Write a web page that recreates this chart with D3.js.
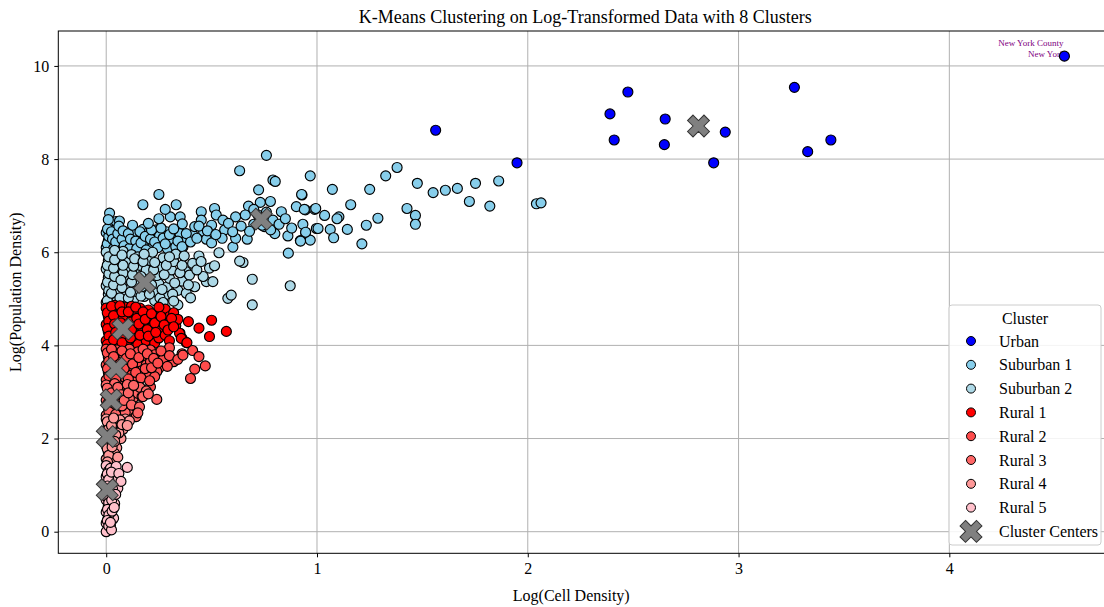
<!DOCTYPE html>
<html><head><meta charset="utf-8">
<script src="https://cdn.jsdelivr.net/npm/d3@7"></script>
<style>body{margin:0;background:#fff;} text{font-family:"Liberation Serif","Times New Roman",serif;}</style>
</head><body><svg id="c" width="1104" height="607"></svg>
<script>
const clusterNames = ["Urban","Suburban 1","Suburban 2","Rural 1","Rural 2","Rural 3","Rural 4","Rural 5"];
const clusterColors = ["#0000ff","#87ceeb","#add8e6","#ff0000","#ff4c4c","#ff6666","#ff9999","#ffc0cb"];
const xTicks = [0,1,2,3,4];
const yTicks = [0,2,4,6,8,10];

const urban = [[1.563,8.62],[1.949,7.92],[2.39,8.97],[2.475,9.44],[2.41,8.41],[2.652,8.86],[2.648,8.31],[2.937,8.58],[2.882,7.92],[3.265,9.54],[3.328,8.16],[3.438,8.41],[4.546,10.21]];
const suburban1 = [[0.00,6.10],[0.01,6.25],[0.00,6.42],[0.02,6.58],[0.016,6.84],[0.03,6.18],[0.04,6.36],[0.05,6.52],[0.047,6.66],[0.063,6.67],[0.09,6.35],[0.07,6.12],[0.10,6.22],[0.12,6.45],[0.13,6.15],[0.15,6.30],[0.17,6.10],[0.174,6.49],[0.18,6.22],[0.20,6.38],[0.197,6.41],[0.139,6.41],[0.095,6.33],[0.22,6.12],[0.237,6.48],[0.253,6.35],[0.26,6.20],[0.285,6.44],[0.29,6.08],[0.31,6.28],[0.33,6.12],[0.35,6.40],[0.364,6.11],[0.376,6.23],[0.411,6.37],[0.462,6.44],[0.475,6.28],[0.304,6.76],[0.351,6.76],[0.361,6.61],[0.332,7.02],[0.25,7.24],[0.174,7.02],[0.451,6.87],[0.451,6.69],[0.514,6.94],[0.522,6.80],[0.554,6.69],[0.562,6.48],[0.614,6.76],[0.675,6.99],[0.723,7.34],[0.731,7.07],[0.779,7.09],[0.831,6.87],[0.791,6.69],[0.902,6.98],[0.945,6.91],[0.929,7.23],[0.989,6.92],[0.997,6.51],[0.946,6.42],[0.968,6.26],[0.921,6.25],[0.862,6.35],[0.864,5.98],[0.601,6.11],[0.669,6.28],[0.614,6.30],[0.76,8.08],[0.633,7.75],[0.791,7.55],[0.802,7.52],[0.968,7.64],[1.073,7.35],[1.16,7.02],[1.25,7.35],[1.326,7.64],[1.38,7.82],[1.476,7.48],[1.551,7.28],[1.609,7.33],[1.666,7.37],[1.752,7.48],[1.862,7.53],[1.723,7.09],[1.82,6.99],[2.041,7.04],[2.063,7.06],[1.427,6.94],[1.467,6.79],[1.467,6.60],[1.289,6.73],[1.234,6.58],[1.213,6.18],[1.144,6.49],[1.104,6.76],[1.095,6.72],[1.063,6.49],[1.079,6.31],[1.005,6.51],[1.036,6.79],[0.994,6.94],[0.94,6.92],[0.927,7.24],[0.933,6.60],[0.946,6.43],[0.922,6.24],[0.70,6.60],[0.75,6.55],[0.68,6.45],[0.72,6.80],[0.80,6.40],[0.42,6.55],[0.55,6.30],[0.50,6.58],
[0.005,6.18],[0.012,6.34],[0.006,6.50],[0.01,6.70],[0.025,6.44],[0.03,6.28],[0.035,6.08],[0.045,6.22],[0.055,6.40],[0.06,6.56],[0.075,6.28],[0.08,6.46],[0.085,6.14],[0.105,6.40],[0.11,6.08],[0.115,6.28],[0.125,6.58],[0.14,6.24],[0.145,6.08],[0.16,6.44],[0.165,6.20],[0.185,6.34],[0.19,6.05],[0.21,6.28],[0.215,6.48],[0.23,6.22],[0.245,6.10],[0.26,6.52],[0.27,6.30],[0.28,6.18],[0.30,6.38],[0.32,6.50],[0.34,6.24],[0.36,6.12],[0.38,6.40],[0.40,6.22],[0.43,6.30],[0.44,6.56],[0.48,6.46],[0.50,6.20],[0.52,6.38],[0.58,6.62],[0.60,6.44],[0.64,6.56],[0.66,6.80],[0.70,6.92],[0.74,6.58],[0.76,6.86],[0.78,6.48],[0.82,6.60],[0.85,6.72],[0.88,6.52],[0.25,6.72],[0.20,6.62],[0.28,6.92]];
const suburban2 = [[0.00,4.92],[0.01,5.10],[0.00,5.28],[0.01,5.46],[0.00,5.64],[0.01,5.82],[0.00,6.00],[0.02,5.02],[0.03,5.20],[0.02,5.38],[0.03,5.56],[0.02,5.74],[0.03,5.92],[0.05,4.95],[0.06,5.14],[0.05,5.32],[0.07,5.50],[0.06,5.68],[0.05,5.86],[0.08,6.02],[0.09,5.06],[0.10,5.24],[0.09,5.42],[0.11,5.60],[0.10,5.78],[0.12,5.95],[0.13,4.98],[0.14,5.16],[0.15,5.36],[0.14,5.54],[0.16,5.72],[0.15,5.90],[0.18,5.05],[0.19,5.22],[0.20,5.45],[0.19,5.62],[0.21,5.82],[0.22,6.00],[0.23,4.96],[0.24,5.14],[0.25,5.32],[0.24,5.50],[0.26,5.68],[0.27,5.88],[0.28,5.08],[0.29,5.26],[0.30,5.44],[0.31,5.62],[0.32,5.80],[0.33,5.96],[0.34,5.18],[0.36,5.38],[0.38,5.58],[0.42,5.26],[0.44,5.92],[0.34,4.87],[0.38,5.12],[0.395,5.51],[0.41,5.76],[0.475,5.37],[0.506,5.37],[0.49,5.66],[0.514,5.71],[0.577,5.01],[0.593,5.08],[0.693,4.87],[0.693,5.42],[0.649,5.78],[0.633,5.81],[0.873,5.28],[0.535,5.99],[0.46,5.48],[0.08,5.55],
[0.005,4.96],[0.012,5.18],[0.006,5.36],[0.013,5.54],[0.005,5.72],[0.012,5.90],[0.025,5.12],[0.035,5.30],[0.04,5.48],[0.035,5.66],[0.04,5.84],[0.04,6.04],[0.065,5.02],[0.075,5.24],[0.07,5.40],[0.08,5.72],[0.075,5.94],[0.105,5.02],[0.115,5.14],[0.12,5.36],[0.125,5.52],[0.13,5.70],[0.135,5.86],[0.165,5.06],[0.17,5.26],[0.165,5.48],[0.175,5.80],[0.18,5.96],[0.205,5.10],[0.215,5.30],[0.225,5.62],[0.23,5.78],[0.255,5.02],[0.265,5.20],[0.275,5.52],[0.285,5.72],[0.30,5.90],[0.315,5.10],[0.325,5.34],[0.35,5.56],[0.36,5.72],[0.37,5.92],[0.39,5.30],[0.40,5.02],[0.43,5.62],[0.45,5.80],[0.32,4.95],[0.27,4.92]];
const rural1 = [[0.00,4.80],[0.01,4.62],[0.00,4.45],[0.01,4.28],[0.00,4.10],[0.02,3.98],[0.02,4.72],[0.03,4.55],[0.03,4.38],[0.02,4.20],[0.04,4.05],[0.05,4.78],[0.06,4.66],[0.05,4.50],[0.07,4.30],[0.06,4.15],[0.08,4.00],[0.09,4.82],[0.10,4.60],[0.09,4.44],[0.11,4.25],[0.10,4.08],[0.12,4.74],[0.13,4.52],[0.14,4.36],[0.13,4.14],[0.15,4.02],[0.16,4.80],[0.17,4.64],[0.18,4.46],[0.17,4.28],[0.19,4.10],[0.20,4.76],[0.21,4.58],[0.22,4.40],[0.21,4.20],[0.23,4.05],[0.24,4.70],[0.25,4.52],[0.26,4.34],[0.25,4.16],[0.27,4.66],[0.28,4.78],[0.30,4.49],[0.29,4.33],[0.30,4.62],[0.32,4.70],[0.33,4.42],[0.35,4.26],[0.36,4.15],[0.38,4.06],[0.39,4.51],[0.44,4.37],[0.49,4.19],[0.50,4.54],[0.57,4.30],[0.34,4.56],[0.15,4.68],[0.08,4.56],[0.04,4.86],[0.12,4.84],
[0.005,4.70],[0.012,4.52],[0.006,4.36],[0.013,4.20],[0.005,4.02],[0.025,4.84],[0.035,4.64],[0.04,4.46],[0.045,4.28],[0.035,4.12],[0.065,4.85],[0.075,4.72],[0.07,4.48],[0.085,4.22],[0.075,4.06],[0.105,4.72],[0.115,4.50],[0.12,4.34],[0.115,4.16],[0.14,4.82],[0.145,4.58],[0.155,4.46],[0.16,4.22],[0.175,4.72],[0.185,4.56],[0.195,4.34],[0.2,4.20],[0.215,4.68],[0.23,4.48],[0.235,4.28],[0.25,4.82],[0.26,4.62],[0.275,4.44],[0.28,4.22],[0.293,4.33],[0.31,4.58],[0.348,4.26],[0.356,4.15],[0.383,4.06],[0.300,4.10],[0.32,4.40]];
const rural2 = [[0.00,3.92],[0.01,3.75],[0.00,3.58],[0.01,3.42],[0.00,3.26],[0.02,3.85],[0.03,3.66],[0.02,3.50],[0.03,3.33],[0.04,3.20],[0.05,3.90],[0.06,3.72],[0.05,3.55],[0.07,3.38],[0.06,3.24],[0.08,3.82],[0.09,3.62],[0.10,3.45],[0.09,3.30],[0.11,3.92],[0.12,3.70],[0.13,3.52],[0.12,3.36],[0.14,3.22],[0.15,3.86],[0.16,3.64],[0.17,3.46],[0.18,3.78],[0.19,3.58],[0.21,3.90],[0.20,3.40],[0.21,3.65],[0.23,3.80],[0.25,3.51],[0.24,3.44],[0.21,3.11],[0.23,3.33],[0.28,3.83],[0.32,3.65],[0.36,3.82],[0.41,3.89],[0.44,3.76],[0.47,3.56],[0.42,3.49],[0.40,3.29],[0.27,3.70],[0.30,3.95],
[0.005,3.84],[0.012,3.66],[0.006,3.50],[0.013,3.34],[0.025,3.92],[0.035,3.76],[0.04,3.44],[0.045,3.28],[0.065,3.60],[0.075,3.88],[0.085,3.50],[0.095,3.72],[0.105,3.28],[0.115,3.82],[0.125,3.60],[0.14,3.42],[0.155,3.74],[0.165,3.30],[0.175,3.92],[0.185,3.50],[0.195,3.82],[0.215,3.52],[0.225,3.72],[0.245,3.62],[0.26,3.88],[0.206,3.24],[0.30,3.78],[0.34,3.70],[0.29,3.55],[0.364,3.79]];
const rural3 = [[0.00,3.15],[0.01,2.98],[0.00,2.82],[0.01,2.66],[0.00,2.50],[0.02,3.08],[0.03,2.90],[0.02,2.74],[0.03,2.58],[0.04,3.18],[0.05,3.00],[0.06,2.84],[0.05,2.68],[0.07,2.52],[0.08,3.12],[0.09,2.95],[0.10,2.78],[0.11,2.61],[0.12,3.05],[0.13,2.88],[0.15,2.97],[0.14,2.68],[0.16,3.10],[0.17,2.90],[0.14,2.47],[0.11,2.86],[0.24,2.84],[0.19,3.02],[0.06,2.45],[0.09,2.56],
[0.005,3.08],[0.012,2.90],[0.006,2.74],[0.013,2.58],[0.025,2.98],[0.035,2.76],[0.045,2.52],[0.055,3.10],[0.07,2.94],[0.075,2.70],[0.085,2.82],[0.10,3.16],[0.105,2.98],[0.12,2.72],[0.13,3.14],[0.142,2.47],[0.158,2.68],[0.174,2.90],[0.15,2.55],[0.20,2.96]];
const rural4 = [[0.00,2.42],[0.01,2.28],[0.00,2.12],[0.01,1.98],[0.00,1.84],[0.01,1.70],[0.00,1.56],[0.02,2.35],[0.03,2.18],[0.02,2.04],[0.03,1.90],[0.02,1.76],[0.03,1.62],[0.02,1.48],[0.04,2.40],[0.05,2.26],[0.06,2.33],[0.07,2.00],[0.05,1.80],[0.04,1.68],[0.08,2.20],[0.09,2.42],[0.06,2.12],[0.03,1.53],[0.11,2.38],
[0.005,2.36],[0.012,2.20],[0.006,2.06],[0.013,1.92],[0.005,1.78],[0.012,1.64],[0.006,1.50],[0.025,2.28],[0.022,1.98],[0.028,1.82],[0.045,2.08],[0.04,1.94],[0.055,1.60],[0.065,2.40],[0.075,2.30],[0.10,2.28],[0.035,2.44]];
const rural5 = [[0.00,1.42],[0.01,1.30],[0.00,1.18],[0.01,1.05],[0.00,0.92],[0.01,0.80],[0.00,0.68],[0.01,0.55],[0.00,0.42],[0.01,0.30],[0.00,0.18],[0.01,0.06],[0.00,0.00],[0.02,1.36],[0.03,1.22],[0.02,1.10],[0.03,0.98],[0.02,0.86],[0.03,0.74],[0.02,0.62],[0.03,0.50],[0.02,0.38],[0.03,0.26],[0.02,0.14],[0.05,0.97],[0.055,0.93],[0.047,1.40],[0.10,1.38],[0.04,0.60],[0.035,0.29],[0.04,1.15],
[0.005,1.24],[0.012,1.12],[0.006,0.98],[0.014,0.86],[0.004,0.74],[0.012,0.62],[0.006,0.48],[0.013,0.36],[0.005,0.24],[0.012,0.12],[0.025,0.04],[0.02,0.20],[0.028,0.44],[0.026,0.68],[0.03,0.92],[0.025,1.28],[0.06,1.25],[0.07,1.08],[0.045,0.80],[0.038,0.52]];
const centers = [[2.81,8.71],[0.736,6.71],[0.182,5.35],[0.079,4.35],[0.047,3.51],[0.024,2.83],[0.005,2.04],[0.005,0.90]];
const annotations = [{label:"New York County",x:4.546,y:10.21,row:0},{label:"New York",x:4.546,y:10.21,row:1}];

const clusterData = [urban,suburban1,suburban2,rural1,rural2,rural3,rural4,rural5];

const svg = d3.select("#c");
const L=58.3, R=1112.2, T=31, B=553.3;
const x = d3.scaleLinear().domain([-0.2273,4.7727]).range([L,R]);
const y = d3.scaleLinear().domain([-0.464,10.75]).range([B,T]);

// grid
const g = svg.append("g");
g.selectAll("line.gx").data(xTicks).join("line").attr("x1",d=>x(d)).attr("x2",d=>x(d)).attr("y1",T).attr("y2",B).attr("stroke","#b0b0b0").attr("stroke-width",1);
g.selectAll("line.gy").data(yTicks).join("line").attr("class","gy").attr("y1",d=>y(d)).attr("y2",d=>y(d)).attr("x1",L).attr("x2",R).attr("stroke","#b0b0b0").attr("stroke-width",1);

// annotations (under points)
svg.selectAll("text.ann").data(annotations).join("text")
  .attr("x",d=>x(d.x)-1+d.row*1).attr("y",d=>y(d.y)-10+d.row*11)
  .attr("text-anchor","end").attr("font-size","9px").attr("fill","#800080").text(d=>d.label);

// points
clusterData.forEach((data,i)=>{
  svg.append("g").selectAll("circle").data(data).join("circle")
    .attr("cx",d=>x(d[0])).attr("cy",d=>y(d[1])).attr("r",5)
    .attr("fill",clusterColors[i]).attr("stroke","#000").attr("stroke-width",1.15);
});

// centers
const xsym = d3.symbol(d3.symbolCross).size(300);
svg.append("g").selectAll("path").data(centers).join("path")
  .attr("d",xsym).attr("transform",d=>`translate(${x(d[0])},${y(d[1])}) rotate(45)`)
  .attr("fill","#808080").attr("stroke","#333").attr("stroke-width",1);

// axes frame
svg.append("rect").attr("x",L).attr("y",T).attr("width",R-L).attr("height",B-T).attr("fill","none").attr("stroke","#000").attr("stroke-width",1);

const xa = svg.append("g").attr("transform",`translate(0,${B})`).call(d3.axisBottom(x).tickValues(xTicks).tickSize(4).tickPadding(5).tickFormat(d3.format("d")));
const ya = svg.append("g").attr("transform",`translate(${L},0)`).call(d3.axisLeft(y).tickValues(yTicks).tickSize(4).tickPadding(5).tickFormat(d3.format("d")));
[xa,ya].forEach(a=>{a.select(".domain").remove();a.selectAll("text").attr("font-family","Liberation Serif").attr("font-size","16px").attr("fill","#000");a.selectAll("line").attr("stroke","#000");});

svg.append("text").attr("x",(L+R)/2).attr("y",23).attr("text-anchor","middle").attr("font-size","18px").text("K-Means Clustering on Log-Transformed Data with 8 Clusters");
svg.append("text").attr("x",(L+R)/2-14).attr("y",601).attr("text-anchor","middle").attr("font-size","16px").text("Log(Cell Density)");
svg.append("text").attr("transform",`translate(21,${(T+B)/2}) rotate(-90)`).attr("text-anchor","middle").attr("font-size","16px").text("Log(Population Density)");

// legend
const lg = svg.append("g");
lg.append("rect").attr("x",949).attr("y",305).attr("width",152).attr("height",240).attr("rx",3).attr("fill","#fff").attr("fill-opacity",0.85).attr("stroke","#cccccc");
lg.append("text").attr("x",1025).attr("y",324).attr("text-anchor","middle").attr("font-size","16px").text("Cluster");
clusterNames.forEach((n,i)=>{
  const yy = 341 + i*23.8;
  lg.append("circle").attr("cx",971).attr("cy",yy).attr("r",4.5).attr("fill",clusterColors[i]).attr("stroke","#000").attr("stroke-width",1);
  lg.append("text").attr("x",999).attr("y",yy+5.5).attr("font-size","16px").text(n);
});
lg.append("path").attr("d",xsym).attr("transform",`translate(971,${341+8*23.8}) rotate(45)`).attr("fill","#808080").attr("stroke","#333");
lg.append("text").attr("x",999).attr("y",341+8*23.8+5.5).attr("font-size","16px").text("Cluster Centers");
</script></body></html>
